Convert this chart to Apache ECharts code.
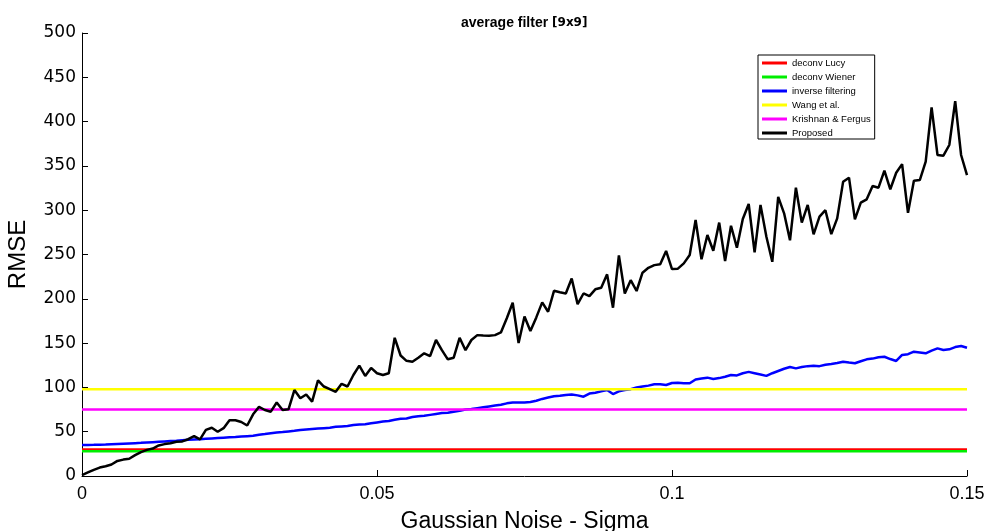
<!DOCTYPE html>
<html><head><meta charset="utf-8">
<script src="https://cdn.jsdelivr.net/npm/echarts@6/dist/echarts.min.js"></script>
<style>html,body{margin:0;padding:0;background:#fff}#c{width:985px;height:531px}</style>
</head><body><div id="c"></div>
<script>
// Gaussian noise sigma sampled every 0.001 from 0 to 0.15 (151 samples)
const sigmaStep = 0.001;
const xTicks = [0, 0.05, 0.1, 0.15];
const yTicks = [0, 50, 100, 150, 200, 250, 300, 350, 400, 450, 500];

const proposed = [
  1, 4, 7, 9.5, 11, 13, 17, 18.5, 19.5, 23.5,
  27, 29.5, 31, 34.5, 36, 37, 38.7, 39, 41.5, 45,
  41.3, 52, 54.5, 50, 54, 63, 63, 61, 57, 69.6,
  78, 74.5, 72.6, 83, 74.5, 75.3, 97, 87.7, 92, 84,
  108, 101, 98, 95, 104, 101, 114, 124.5, 113, 122,
  116, 114, 116, 156, 136, 130, 129, 133.5, 138.5, 135.4,
  153.5, 142, 131.7, 133.5, 156, 142, 153.5, 159, 158.5, 158.4,
  159, 162, 178, 195.6, 150, 180, 163.7, 179, 196, 185.4,
  209, 207.3, 206, 223, 194, 206, 203, 210.7, 212.5, 227.6,
  190, 249, 206, 221, 208.8, 229.5, 235, 238, 239, 254,
  233.6, 234, 240, 249.4, 289, 244.6, 272, 254.3, 286, 242.7,
  282.5, 257.7, 290, 307, 252.5, 306, 270, 241.8, 315, 296.5,
  266, 325.4, 286, 306, 272.8, 292.7, 300, 273, 290.8, 332,
  336.7, 289.7, 308.5, 312.3, 327.3, 325.4, 344.6, 323.6, 342.3, 352,
  297, 333.3, 334, 354.7, 416, 362.3, 361.5, 373.6, 423, 362.3,
  339.7
];

const inverseFiltering = [
  35, 35.1, 35.2, 35.4, 35.6, 35.9, 36.2, 36.5, 36.8, 37.1,
  37.4, 37.8, 38.2, 38.6, 39, 39.4, 39.8, 40.3, 40.8, 41.2,
  41.6, 42, 42.4, 42.8, 43.2, 43.6, 44, 44.5, 45, 45.5,
  46.5, 47.3, 48.2, 49, 49.6, 50.3, 51, 52, 52.5, 53,
  53.5, 54, 54.5, 55.5, 56, 56.5, 57.5, 58, 58.5, 59.5,
  60.5, 61.5, 62, 63.5, 64.5, 65, 66.5, 67.5, 68, 69,
  70, 71, 71.5, 72.5, 73.5, 75, 75.5, 76.5, 77.5, 78.5,
  79.5, 80.5, 82, 83, 83, 83, 83.5, 85, 87, 88.5,
  90, 90.5, 91.5, 92, 91, 89.5, 93, 94, 95.5, 97,
  92.5, 95.5, 97, 98, 100, 101, 102, 103.5, 103.5, 102.7,
  105, 105.3, 104.8, 104.6, 109, 110, 111, 109.5, 110.5, 112,
  114, 113.5, 116, 117.5, 116, 114.5, 113, 116, 118.5, 121,
  123, 121.5, 123, 124, 124.5, 124, 125.5, 126.4, 127.5, 129,
  128, 127.2, 129.5, 131.7, 132.5, 134, 134.6, 132, 129.8, 136.6,
  137.5, 140.3, 139.5, 138.5, 141.5, 144, 142.2, 143, 145.5, 146.7,
  144.8
];

// flat baselines, drawn between the two ends of the sigma range
const flatSigma = [0, 0.15];
const deconvLucy = [30, 30];
const deconvWiener = [28, 28];
const wangEtAl = [98, 98];
const krishnanFergus = [75, 75];

const sampled = arr => arr.map((v, i) => [+(i * sigmaStep).toFixed(3), v]);
const flat = arr => arr.map((v, i) => [flatSigma[i], v]);

const chart = echarts.init(document.getElementById('c'), null, {renderer: 'canvas'});
const lineW = 2.5;
function mk(name, data, color, z) {
  return {name, type: 'line', data, showSymbol: false, symbol: 'none', z,
    lineStyle: {color, width: lineW}, itemStyle: {color}, emphasis: {disabled: true}};
}
chart.setOption({
  animation: false,
  backgroundColor: '#fff',
  title: {
    text: 'average filter {s|[9x9]}',
    left: 456, top: 11,
    textStyle: {fontFamily: 'Liberation Sans, Arial, sans-serif', fontSize: 14, fontWeight: 'bold', color: '#000',
      rich: {s: {fontFamily: 'DejaVu Sans', fontSize: 12, fontWeight: 'bold', color: '#000'}}}
  },
  legend: {
    orient: 'vertical', left: 758, top: 55,
    borderColor: '#000', borderWidth: 1, padding: [2, 4, 0, 4],
    itemGap: 2, itemWidth: 25, itemHeight: 3, icon: 'rect',
    textStyle: {fontFamily: 'Liberation Sans, Arial, sans-serif', fontSize: 9.5, color: '#000', lineHeight: 12},
    data: ['deconv Lucy', 'deconv Wiener', 'inverse filtering', 'Wang et al.', 'Krishnan & Fergus', 'Proposed']
  },
  grid: {left: 82, right: 18, top: 33, bottom: 55, containLabel: false, outerBoundsMode: 'none'},
  xAxis: {
    type: 'value', min: xTicks[0], max: xTicks[xTicks.length - 1], interval: xTicks[1] - xTicks[0],
    name: 'Gaussian Noise - Sigma', nameLocation: 'middle', nameGap: 34,
    nameTextStyle: {fontFamily: 'Liberation Sans Narrow, Liberation Sans, sans-serif', fontSize: 23, color: '#000'},
    axisLine: {lineStyle: {color: '#000', width: 1}},
    axisTick: {inside: true, length: 6, lineStyle: {color: '#000'}},
    axisLabel: {margin: 9, color: '#000', fontFamily: 'Liberation Sans Narrow, Liberation Sans, sans-serif', fontSize: 18,
      formatter: v => String(+v.toFixed(3))},
    splitLine: {show: false}
  },
  yAxis: {
    type: 'value', min: yTicks[0], max: yTicks[yTicks.length - 1], interval: yTicks[1] - yTicks[0],
    name: 'RMSE', nameLocation: 'middle', nameGap: 52, nameRotate: 90,
    nameTextStyle: {fontFamily: 'Liberation Sans, Arial, sans-serif', fontSize: 24, color: '#000'},
    axisLine: {show: true, lineStyle: {color: '#000', width: 1}},
    axisTick: {show: true, inside: true, length: 6, lineStyle: {color: '#000'}},
    axisLabel: {margin: 6, color: '#000', fontFamily: 'DejaVu Sans, sans-serif', fontSize: 17},
    splitLine: {show: false}
  },
  series: [
    mk('deconv Lucy', flat(deconvLucy), '#ff0000', 2),
    mk('deconv Wiener', flat(deconvWiener), '#00ee00', 3),
    mk('inverse filtering', sampled(inverseFiltering), '#0000ff', 4),
    mk('Wang et al.', flat(wangEtAl), '#ffff00', 5),
    mk('Krishnan & Fergus', flat(krishnanFergus), '#ff00ff', 6),
    mk('Proposed', sampled(proposed), '#000000', 7)
  ]
});
</script>
</body></html>
